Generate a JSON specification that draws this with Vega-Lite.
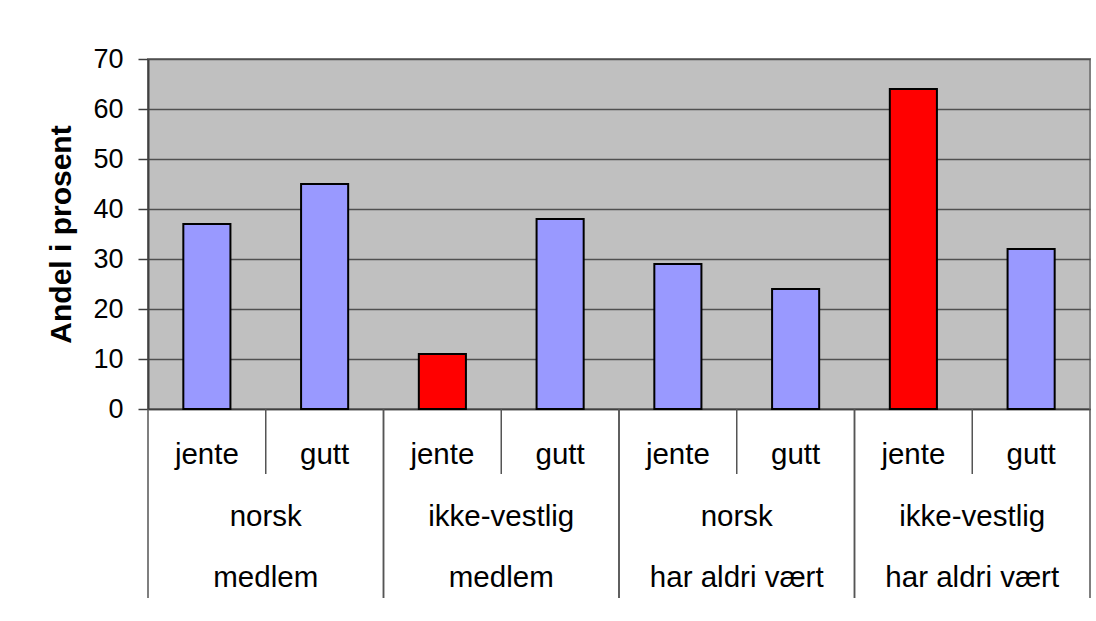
{
  "$schema": "https://vega.github.io/schema/vega-lite/v6.json",
  "autosize": {"type": "pad"},
  "padding": {"left": 45, "top": 44, "right": 7, "bottom": 24},
  "background": "white",
  "config": {"font": "Liberation Sans", "concat": {"spacing": 0}},
  "spacing": 0,
  "bounds": "flush",
  "data": {
    "values": [
      {"kategori": "medlem/norsk/jente", "gruppe": "medlem/norsk", "status": "medlem", "bakgrunn": "norsk", "kjonn": "jente", "andel": 37},
      {"kategori": "medlem/norsk/gutt", "gruppe": "medlem/norsk", "status": "medlem", "bakgrunn": "norsk", "kjonn": "gutt", "andel": 45},
      {"kategori": "medlem/ikke-vestlig/jente", "gruppe": "medlem/ikke-vestlig", "status": "medlem", "bakgrunn": "ikke-vestlig", "kjonn": "jente", "andel": 11},
      {"kategori": "medlem/ikke-vestlig/gutt", "gruppe": "medlem/ikke-vestlig", "status": "medlem", "bakgrunn": "ikke-vestlig", "kjonn": "gutt", "andel": 38},
      {"kategori": "har aldri vært/norsk/jente", "gruppe": "har aldri vært/norsk", "status": "har aldri vært", "bakgrunn": "norsk", "kjonn": "jente", "andel": 29},
      {"kategori": "har aldri vært/norsk/gutt", "gruppe": "har aldri vært/norsk", "status": "har aldri vært", "bakgrunn": "norsk", "kjonn": "gutt", "andel": 24},
      {"kategori": "har aldri vært/ikke-vestlig/jente", "gruppe": "har aldri vært/ikke-vestlig", "status": "har aldri vært", "bakgrunn": "ikke-vestlig", "kjonn": "jente", "andel": 64},
      {"kategori": "har aldri vært/ikke-vestlig/gutt", "gruppe": "har aldri vært/ikke-vestlig", "status": "har aldri vært", "bakgrunn": "ikke-vestlig", "kjonn": "gutt", "andel": 32}
    ]
  },
  "vconcat": [
    {
      "width": 942,
      "height": 350,
      "view": {"fill": "#c0c0c0", "stroke": "#808080", "strokeWidth": 2},
      "mark": {"type": "bar", "stroke": "#000000", "strokeWidth": 2},
      "encoding": {
        "x": {
          "field": "kategori", "type": "nominal", "sort": null,
          "scale": {"paddingInner": 0.6, "paddingOuter": 0.3},
          "axis": {"labels": false, "ticks": false, "title": null, "domainColor": "#404040", "domainWidth": 1.5, "minExtent": 0, "maxExtent": 0, "labelPadding": 0, "tickSize": 0}
        },
        "y": {
          "field": "andel", "type": "quantitative",
          "scale": {"domain": [0, 70], "nice": false},
          "axis": {
            "values": [0, 10, 20, 30, 40, 50, 60, 70],
            "title": "Andel i prosent",
            "titleFontSize": 30, "titleFontWeight": "bold", "titleColor": "#000000", "titlePadding": 17,
            "labelFontSize": 27, "labelColor": "#000000", "labelPadding": 15,
            "minExtent": 55, "maxExtent": 55,
            "tickSize": 10, "tickColor": "#404040", "tickWidth": 1.5,
            "domainColor": "#404040", "domainWidth": 2,
            "grid": true, "gridColor": "#505050", "gridWidth": 1.5
          }
        },
        "color": {
          "condition": {"test": "datum.kjonn === 'jente' && datum.bakgrunn === 'ikke-vestlig'", "value": "#ff0000"},
          "value": "#9999ff"
        }
      }
    },
    {
      "width": 942,
      "height": 189,
      "view": {"stroke": null},
      "resolve": {"scale": {"x": "independent"}},
      "layer": [
        {
          "mark": {"type": "text", "fontSize": 29.5, "color": "#000000", "baseline": "middle"},
          "encoding": {
            "x": {"field": "kategori", "type": "nominal", "sort": null, "scale": {"paddingInner": 0, "paddingOuter": 0}, "axis": null},
            "y": {"datum": 0.73, "type": "quantitative", "scale": {"domain": [0, 3], "reverse": true, "nice": false}, "axis": null},
            "text": {"field": "kjonn"}
          }
        },
        {
          "transform": [{"filter": "datum.kjonn === 'jente'"}],
          "mark": {"type": "text", "fontSize": 29.5, "color": "#000000", "baseline": "middle"},
          "encoding": {
            "x": {"field": "gruppe", "type": "nominal", "sort": null, "scale": {"paddingInner": 0, "paddingOuter": 0}, "axis": null},
            "y": {"datum": 1.71, "type": "quantitative"},
            "text": {"field": "bakgrunn"}
          }
        },
        {
          "transform": [{"filter": "datum.kjonn === 'jente'"}],
          "mark": {"type": "text", "fontSize": 29.5, "color": "#000000", "baseline": "middle"},
          "encoding": {
            "x": {"field": "gruppe", "type": "nominal", "sort": null, "scale": {"paddingInner": 0, "paddingOuter": 0}, "axis": null},
            "y": {"datum": 2.69, "type": "quantitative"},
            "text": {"field": "status"}
          }
        },
        {
          "transform": [{"filter": "datum.kjonn === 'jente'"}],
          "mark": {"type": "rule", "color": "#555555", "strokeWidth": 1.5},
          "encoding": {
            "x": {"field": "gruppe", "type": "nominal", "sort": null, "bandPosition": 0.5, "scale": {"paddingInner": 0, "paddingOuter": 0}, "axis": null},
            "y": {"datum": 0, "type": "quantitative"},
            "y2": {"datum": 1.03}
          }
        },
        {
          "transform": [{"filter": "datum.kjonn === 'jente'"}],
          "mark": {"type": "rule", "color": "#555555", "strokeWidth": 1.5},
          "encoding": {
            "x": {"field": "gruppe", "type": "nominal", "sort": null, "bandPosition": 0, "scale": {"paddingInner": 0, "paddingOuter": 0}, "axis": null},
            "y": {"datum": 0, "type": "quantitative"},
            "y2": {"datum": 3}
          }
        },
        {
          "transform": [{"filter": "datum.kjonn === 'jente'"}],
          "mark": {"type": "rule", "color": "#555555", "strokeWidth": 1.5},
          "encoding": {
            "x": {"field": "gruppe", "type": "nominal", "sort": null, "bandPosition": 1, "scale": {"domain": ["medlem/norsk", "medlem/ikke-vestlig", "har aldri vært/norsk", "har aldri vært/ikke-vestlig"], "paddingInner": 0, "paddingOuter": 0}, "axis": null},
            "y": {"datum": 0, "type": "quantitative"},
            "y2": {"datum": 3}
          }
        }
      ]
    }
  ]
}
